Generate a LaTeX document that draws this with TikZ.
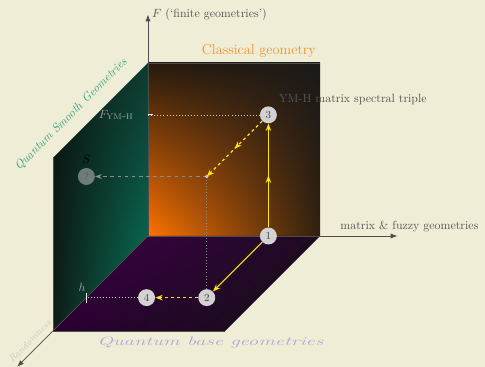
\documentclass[tikz,border=0pt]{standalone}
\usetikzlibrary{arrows.meta,positioning,calc,decorations.markings,shadings}
\definecolor{paper}{HTML}{EFEDD6}
\definecolor{axisc}{HTML}{4D4D4D}
\definecolor{ink}{HTML}{555555}
\definecolor{classic}{HTML}{F39227}
\definecolor{smooth}{HTML}{3C9F80}
\definecolor{qbase}{HTML}{B3A6D6}
\definecolor{ymh}{HTML}{FFE500}
\definecolor{faint}{HTML}{CCCABB}
\definecolor{guidec}{HTML}{8C8C8C}
\definecolor{purpA}{HTML}{40004A}
\definecolor{purpB}{HTML}{1E0A22}
\definecolor{purpC}{HTML}{2A0032}
\definecolor{purpD}{HTML}{141014}
\definecolor{tealA}{HTML}{0A1512}
\definecolor{tealB}{HTML}{0E3A30}
\definecolor{tealC}{HTML}{0E1C18}
\definecolor{tealD}{HTML}{067A5C}
\tikzset{
  ax/.style={-{Latex[length=2mm]},line width=0.6pt,draw=axisc},
  rim/.style={line width=0.5pt,draw=axisc},
  pt/.style={circle,fill=gray!35,text=black!75,inner sep=0pt,minimum size=5mm,font=\small},
  mv/.style={-{Stealth[length=2.2mm]},line width=1pt,draw=ymh},
  mvd/.style={mv,dash pattern=on 2.5pt off 2.5pt},
  midarr/.style={postaction={decorate},decoration={markings,
      mark=at position 0.5 with {\arrow[ymh]{Stealth[length=2.2mm]}}}},
  guide/.style={draw=guidec,dotted,line width=0.6pt},
  lbl/.style={text=ink,font=\normalsize},
}

\begin{document}
\begin{tikzpicture}[x={(5.08cm,0cm)},y={(0cm,5.11cm)},z={(-2.8cm,-2.8cm)}]
\fill[paper] (-4.37cm,-3.868cm) rectangle (9.952cm,6.969cm);
\useasboundingbox (-4.37cm,-3.868cm) rectangle (9.952cm,6.969cm);

% faces
\shade[upper left=black!80!brown, upper right=black!90, lower left=orange!90!red, lower right=black!75!brown]
  (0,0,0) rectangle (1,1,0);
\shade[upper left=tealA, upper right=tealB, lower left=tealC, lower right=tealD]
  (0,0,0)--(0,1,0)--(0,1,1)--(0,0,1)--cycle;
\shade[upper left=purpA, upper right=purpB, lower left=purpC, lower right=purpD]
  (0,0,0)--(1,0,0)--(1,0,1)--(0,0,1)--cycle;

% rims and axes
\coordinate (o) at (0,0,0);
\draw[rim] (0,1,0)--(1,1,0);
\draw[rim] (0,0,1)--(1,0,1);
\draw[rim] (0,0,1)--(0,1,1);
\draw[ax] (o)--(0,1.28,0) coordinate (ftip);
\draw[ax] (o)--(1.45,0,0) coordinate (mtip);
\draw[ax] (o)--(0,0,1.38) coordinate (rtip);

% points
\coordinate (fy) at (0,0.7,0);
\coordinate (dot) at (0.7,0.7,0.65);
\coordinate (ht) at (0,0,0.65);
\node[pt] (p1) at (0.7,0,0) {1};
\node[pt] (p2) at (0.7,0,0.65) {2};
\node[pt] (p3) at (0.7,0.7,0) {3};
\node[pt] (p4) at (0.35,0,0.65) {4};
\node[pt,fill=gray!60,fill opacity=0.6] (sq) at (0,0.7,0.65) {?};

% guides
\draw[guide,draw=faint] (fy)--(p3);
\draw[guide] (dot)--(p2);
\draw[guide,draw=faint] (p4)--(ht);
\draw[guidec,dashed,line width=0.7pt,-{Stealth[length=2mm]}] (dot)--(sq);
\fill[gray!40] (dot) circle (1.6pt);
\draw[white!85!gray,line width=0.7pt] (fy)--++(0.15cm,0);
\draw[white!85!gray,line width=0.7pt] ($(ht)+(0,-0.15cm)$)--++(0,0.3cm);

% moves
\draw[mv,midarr] (p1)--(p3);
\draw[mv] (p1)--(p2);
\draw[mvd,midarr] (p3)--(dot);
\draw[mvd] (p2)--(p4);

% labels
\node[lbl,anchor=west] at (ftip) {$F$ (`finite geometries')};
\node[lbl,above] at (1.52,0,0) {matrix \& fuzzy geometries};
\node[lbl,text=classic,font=\large,anchor=south east,yshift=0.5mm] at (1,1,0) {Classical geometry};
\node[lbl,above right=0pt of p3] {YM-H matrix spectral triple};
\node[lbl,text=gray!75,left=3mm] at (fy) {$F_{\mathrm{YM\mbox{-}H}}$};
\node[text=black,above=0pt of sq] {$S$};
\node[text=gray!70,anchor=south east,inner sep=1pt] at ($(ht)+(0.02cm,0.15cm)$) {$h$};
\node[text=smooth,font=\normalsize\itshape,rotate=45] at (0,1.145,0.81) {Quantum Smooth Geometries};
\node[text=qbase,font=\large\itshape,xscale=1.45,yscale=0.85] at (0.983,0,1.126) {Quantum base geometries};
\node[text=faint,font=\footnotesize\itshape,rotate=45] at (-0.076,0,1.108) {Randomness};
\end{tikzpicture}
\end{document}
